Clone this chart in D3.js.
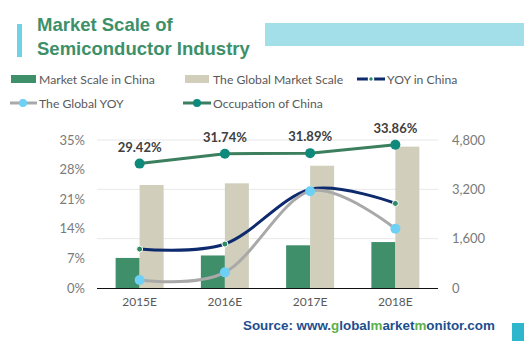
<!DOCTYPE html>
<html>
<head>
<meta charset="utf-8">
<script src="https://cdn.jsdelivr.net/npm/d3@7"></script>
<style>
  html, body { margin: 0; padding: 0; background: #fff; }
  svg { display: block; }
</style>
</head>
<body>
<div id="chart"></div>
<script>
// 半導體產業市場規模：柱狀（右軸）+ 成長率折線（左軸）
const years = ["2015E", "2016E", "2017E", "2018E"];
const chinaScale = [975, 1055, 1385, 1490];
const globalScale = [3340, 3395, 3965, 4585];
const chinaYoy = [9.2, 10.4, 23.3, 20.0];
const globalYoy = [1.9, 3.7, 22.9, 14.0];
const occupation = [29.42, 31.74, 31.89, 33.86];
const leftTicks = [0, 7, 14, 21, 28, 35];
const rightTicks = [0, 1600, 3200, 4800];

const W = 524, H = 341;
const C = {
  green: "#3f8f6b", beige: "#d1cebb", navy: "#0d2a6e", dot: "#2e8a63",
  gray: "#a9a9a9", sky: "#6fd0f5", occ: "#3b7f5e", occDot: "#0e8a7c",
  text: "#595959", tick: "#7a7a7a", grid: "#e8e8e8"
};
const font = "Lato, 'Noto Sans', sans-serif";

const svg = d3.select("#chart").append("svg")
  .attr("width", W).attr("height", H).attr("font-family", font);

// 標題
svg.append("rect").attr("x", 17).attr("y", 24).attr("width", 5).attr("height", 33).attr("fill", "#6fd3e6");
svg.append("rect").attr("x", 265).attr("y", 23).attr("width", 259).attr("height", 23).attr("fill", "#a2dfe9");
const title = svg.append("text").attr("fill", "#3d9069")
  .attr("font-family", "'Liberation Sans', Arial, sans-serif").attr("font-weight", "bold").attr("font-size", 18.5);
title.append("tspan").attr("x", 37).attr("y", 31).text("Market Scale of");
title.append("tspan").attr("x", 37).attr("y", 55).text("Semiconductor Industry");

// 圖例
const legend = svg.append("g").attr("font-size", 12.2).attr("fill", C.text);
function legendText(x, y, t) {
  legend.append("text").attr("x", x).attr("y", y + 4.5).text(t);
}
legend.append("rect").attr("x", 11).attr("y", 75).attr("width", 25).attr("height", 8).attr("fill", C.green);
legendText(39, 79, "Market Scale in China");
legend.append("rect").attr("x", 185).attr("y", 75).attr("width", 24).attr("height", 8).attr("fill", C.beige);
legendText(213, 79, "The Global Market Scale");
legend.append("line").attr("x1", 357).attr("x2", 385).attr("y1", 79).attr("y2", 79)
  .attr("stroke", C.navy).attr("stroke-width", 3);
legend.append("circle").attr("cx", 371).attr("cy", 79).attr("r", 2.5).attr("fill", C.dot)
  .attr("stroke", "#fff").attr("stroke-width", 1.5);
legendText(387, 79, "YOY in China");
legend.append("line").attr("x1", 10).attr("x2", 37).attr("y1", 103).attr("y2", 103)
  .attr("stroke", C.gray).attr("stroke-width", 3);
legend.append("circle").attr("cx", 23).attr("cy", 103).attr("r", 4).attr("fill", C.sky);
legendText(39, 103, "The Global YOY");
legend.append("line").attr("x1", 183).attr("x2", 211).attr("y1", 103).attr("y2", 103)
  .attr("stroke", C.occ).attr("stroke-width", 3);
legend.append("circle").attr("cx", 197).attr("cy", 103).attr("r", 4).attr("fill", C.occDot);
legendText(213, 103, "Occupation of China");

// 比例尺
const x = d3.scaleBand().domain(years).range([97, 438]);
const yL = d3.scaleLinear().domain([0, 35]).range([288, 140]);
const yR = d3.scaleLinear().domain([0, 4800]).range([288, 140]);
const cx = d => x(d) + x.bandwidth() / 2;
const barW = 24;

// 格線（依右軸刻度）
svg.append("g").selectAll("line").data(rightTicks.slice(1)).join("line")
  .attr("x1", 97).attr("x2", 438).attr("y1", d => yR(d)).attr("y2", d => yR(d))
  .attr("stroke", C.grid).attr("stroke-width", 1);

// 軸
const axL = svg.append("g").attr("transform", "translate(88,0)")
  .call(d3.axisLeft(yL).tickValues(leftTicks).tickFormat(d => d + "%").tickSize(0).tickPadding(3));
const axR = svg.append("g").attr("transform", "translate(449,0)")
  .call(d3.axisRight(yR).tickValues(rightTicks).tickFormat(d3.format(",")).tickSize(0).tickPadding(3));
const axB = svg.append("g").attr("transform", "translate(0,288)")
  .call(d3.axisBottom(x).tickSize(0).tickPadding(9));
[axL, axR, axB].forEach(g => {
  g.select(".domain").remove();
  g.selectAll("text").attr("font-family", font).attr("font-size", 13).attr("fill", C.tick);
});
axB.selectAll("text").attr("font-size", 12).attr("fill", C.text);

// 柱
svg.append("g").selectAll("rect").data(years).join("rect")
  .attr("x", d => cx(d) - barW).attr("width", barW)
  .attr("y", (d, i) => yR(chinaScale[i])).attr("height", (d, i) => yR(0) - yR(chinaScale[i]))
  .attr("fill", C.green);
svg.append("g").selectAll("rect").data(years).join("rect")
  .attr("x", d => cx(d)).attr("width", barW)
  .attr("y", (d, i) => yR(globalScale[i])).attr("height", (d, i) => yR(0) - yR(globalScale[i]))
  .attr("fill", C.beige);

svg.append("line").attr("x1", 97).attr("x2", 438).attr("y1", 288.5).attr("y2", 288.5)
  .attr("stroke", "#111").attr("stroke-width", 1.2);

// 折線
function series(vals, color, curve) {
  const line = d3.line().x((d, i) => cx(years[i])).y(d => yL(d)).curve(curve);
  svg.append("path").datum(vals).attr("d", line)
    .attr("fill", "none").attr("stroke", color).attr("stroke-width", 3).attr("stroke-linecap", "round");
}
const smooth = d3.curveCardinal.tension(0);
series(chinaYoy, C.navy, smooth);
series(globalYoy, C.gray, smooth);
series(occupation, C.occ, d3.curveLinear);

svg.append("g").selectAll("circle").data(chinaYoy).join("circle")
  .attr("cx", (d, i) => cx(years[i])).attr("cy", d => yL(d)).attr("r", 3)
  .attr("fill", C.dot).attr("stroke", "#fff").attr("stroke-width", 1);
svg.append("g").selectAll("circle").data(globalYoy).join("circle")
  .attr("cx", (d, i) => cx(years[i])).attr("cy", d => yL(d)).attr("r", 5)
  .attr("fill", C.sky);
svg.append("g").selectAll("circle").data(occupation).join("circle")
  .attr("cx", (d, i) => cx(years[i])).attr("cy", d => yL(d)).attr("r", 5)
  .attr("fill", C.occDot);

svg.append("g").selectAll("text").data(occupation).join("text")
  .attr("x", (d, i) => cx(years[i])).attr("y", d => yL(d) - 12)
  .attr("text-anchor", "middle").attr("font-size", 13).attr("font-weight", "bold")
  .attr("fill", "#404040").text(d => d.toFixed(2) + "%");

// 來源
const src = svg.append("text").attr("x", 243).attr("y", 330)
  .attr("font-family", "'Liberation Sans', Arial, sans-serif").attr("font-weight", "bold")
  .attr("font-size", 13.4).attr("fill", "#1d4f8e");
[["Source: www.", 0], ["g", 1], ["lobal", 0], ["m", 1], ["arket", 0], ["m", 1], ["onitor.com", 0]]
  .forEach(([t, hi]) => src.append("tspan").attr("fill", hi ? "#5cb04a" : null).text(t));
svg.append("rect").attr("x", 512).attr("y", 323).attr("width", 12).attr("height", 18).attr("fill", "#2db6cc");
</script>
</body>
</html>
